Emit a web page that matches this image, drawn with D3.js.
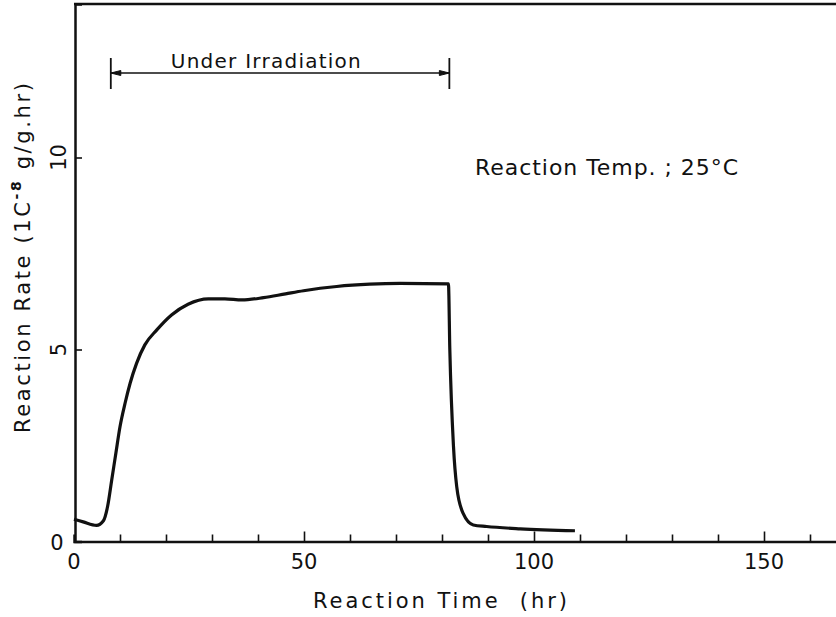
<!DOCTYPE html>
<html>
<head>
<meta charset="utf-8">
<script src="https://cdn.jsdelivr.net/npm/d3@7"></script>
<style>
  body { margin: 0; background: #fff; }
  svg { display: block; }
  text { font-family: "DejaVu Sans", "Liberation Sans", sans-serif; fill: #111; }
</style>
</head>
<body>
<svg width="836" height="617"></svg>
<script>
// reaction time (hr) and reaction rate (10^-8 g/g.hr)
var timeHr = [0, 2, 4.9, 6.4, 7.3, 8.2, 9.1, 10.0, 11.1, 12.2, 13.6, 15.4, 18.0, 21.2,
              24.8, 29.2, 32.8, 36.5, 41.2, 46, 49.9, 57.1, 64.3, 70.9, 81.4, 81.7,
              82.5, 83.2, 84.6, 86.8, 89.7, 97.0, 108.9];
var rate = [0.58, 0.51, 0.42, 0.54, 0.91, 1.60, 2.30, 2.99, 3.60, 4.12, 4.64, 5.12, 5.51, 5.90,
            6.18, 6.32, 6.32, 6.29, 6.35, 6.45, 6.53, 6.64, 6.70, 6.72, 6.71, 5.0,
            2.47, 1.43, 0.73, 0.43, 0.39, 0.33, 0.28];

var xTickLabels = [0, 50, 100, 150];
var xMinorTicks = d3.range(10, 170, 10);
var yTickLabels = [5, 10];

var irradStart = 8, irradEnd = 81.6, irradLevel = 12.2;
var irradLabel = 'Under Irradiation';
var tempLabel = 'Reaction Temp. ; 25\u00B0C';

var svg = d3.select('svg');

var x = d3.scaleLinear().domain([0, 170]).range([74, 856]);
var y = d3.scaleLinear().domain([0, 14]).range([541.5, 3.9]);

//frame: top line, left axis, bottom axis
svg.append('line')
    .attr('x1', x(0)).attr('x2', 836)
    .attr('y1', y(14)).attr('y2', y(14))
    .attr('stroke', '#111').attr('stroke-width', 2.5);

var xAxis = d3.axisBottom(x)
    .tickValues(xMinorTicks)
    .tickSize(-7)
    .tickFormat('');
var gx = svg.append('g')
    .attr('transform', 'translate(0,' + y(0) + ')')
    .call(xAxis);
gx.select('.domain').attr('stroke-width', 2.5).attr('stroke', '#111');
gx.selectAll('.tick line').attr('stroke-width', 1.6).attr('stroke', '#111');
gx.selectAll('.tick')
    .filter(function(d){ return d % 50 === 0; })
    .select('line').attr('y2', -10);

svg.append('g').selectAll('text')
    .data(xTickLabels)
    .enter()
    .append('text')
    .attr('x', function(d){ return x(d); })
    .attr('y', y(0) + 27)
    .attr('text-anchor', 'middle')
    .style('font-size', '21px')
    .text(function(d){ return d; });

var yAxis = d3.axisLeft(y)
    .tickValues(yTickLabels)
    .tickSize(-7)
    .tickFormat('');
var gy = svg.append('g')
    .attr('transform', 'translate(' + (x(0) + 1) + ',0)')
    .call(yAxis);
gy.select('.domain').attr('stroke-width', 2.5).attr('stroke', '#111');
gy.selectAll('.tick line').attr('stroke-width', 1.6).attr('stroke', '#111');

//y tick labels are set sideways like the title
svg.append('g').selectAll('text')
    .data(yTickLabels)
    .enter()
    .append('text')
    .attr('transform', function(d){
        return 'translate(' + (x(0) - 8) + ',' + y(d) + ') rotate(-90)';
    })
    .attr('text-anchor', 'middle')
    .style('font-size', '21px')
    .text(function(d){ return d; });

svg.append('text')
    .attr('x', x(0) - 17)
    .attr('y', y(0) + 8)
    .attr('text-anchor', 'middle')
    .style('font-size', '21px')
    .text('0');

//axis titles
svg.append('text')
    .attr('x', 440)
    .attr('y', 608)
    .attr('text-anchor', 'middle')
    .attr('textLength', 254)
    .style('font-size', '21px')
    .text('Reaction Time\u00A0\u00A0(hr)');

var ytitle = svg.append('text')
    .attr('transform', 'translate(30,258) rotate(-90)')
    .attr('text-anchor', 'middle')
    .attr('textLength', 350)
    .style('font-size', '21px');
ytitle.append('tspan').text('Reaction Rate  (1C');
ytitle.append('tspan').attr('dy', -9).style('font-size', '14px').style('font-weight', 'bold').text('-8');
ytitle.append('tspan').attr('dy', 9).text(' g/g.hr)');

//the rate curve
var lineFunction = d3.line()
    .x(function(d, i){ return x(timeHr[i]); })
    .y(function(d){ return y(d); })
    .curve(d3.curveMonotoneX);

svg.append('path')
    .datum(rate)
    .attr('d', lineFunction)
    .attr('fill', 'none')
    .attr('stroke', '#111')
    .attr('stroke-width', 3.2)
    .attr('stroke-linejoin', 'round');

//irradiation span
var ay = y(irradLevel);
var ax1 = x(irradStart), ax2 = x(irradEnd);
var irr = svg.append('g').attr('stroke', '#111');
irr.append('line')
    .attr('x1', ax1).attr('x2', ax2)
    .attr('y1', ay).attr('y2', ay)
    .attr('stroke-width', 1.5);
[ax1, ax2].forEach(function(px){
    irr.append('line')
        .attr('x1', px).attr('x2', px)
        .attr('y1', ay - 15).attr('y2', ay + 16)
        .attr('stroke-width', 1.8);
});
irr.append('path')
    .attr('d', 'M' + ax1 + ',' + ay + 'l10,-2.5l0,5z')
    .attr('fill', '#111');
irr.append('path')
    .attr('d', 'M' + ax2 + ',' + ay + 'l-10,-2.5l0,5z')
    .attr('fill', '#111');

svg.append('text')
    .attr('x', ax1 + 60)
    .attr('y', ay - 5)
    .attr('textLength', 190)
    .style('font-size', '20px')
    .text(irradLabel);

svg.append('text')
    .attr('x', 475)
    .attr('y', 175)
    .attr('textLength', 263)
    .style('font-size', '22px')
    .text(tempLabel);
</script>
</body>
</html>
